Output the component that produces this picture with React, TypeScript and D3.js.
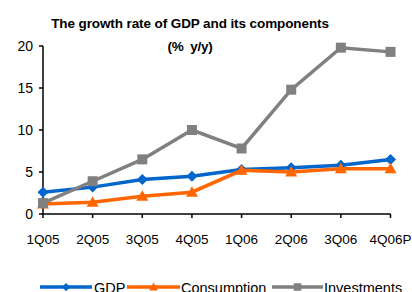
import React from "react";
import * as d3 from "d3";

const categories = ["1Q05", "2Q05", "3Q05", "4Q05", "1Q06", "2Q06", "3Q06", "4Q06P"];
const gdp = [2.6, 3.2, 4.1, 4.5, 5.3, 5.5, 5.8, 6.5];
const consumption = [1.2, 1.4, 2.1, 2.6, 5.2, 5.0, 5.4, 5.4];
const investments = [1.3, 3.9, 6.5, 10.0, 7.8, 14.8, 19.8, 19.3];
const yTicks = [0, 5, 10, 15, 20];
const seriesNames = ["GDP", "Consumption", "Investments"];

const W = 412, H = 292;
const FONT = "Liberation Sans, Arial, sans-serif";

export default function App() {
  const x = d3.scalePoint<string>().domain(categories).range([43, 390.5]);
  const y = d3.scaleLinear().domain([0, 20]).range([214, 46]);
  const colors = ["#0066CC", "#FF6600", "#808080"];
  const data = [gdp, consumption, investments];
  const line = d3.line<number>().x((_, i) => x(categories[i])!).y((d) => y(d));

  const marker = (k: number, cx: number, cy: number, key: string | number, scale = 1) => {
    const c = colors[k];
    if (k === 0) {
      const s = 5.5 * scale;
      return <path key={key} d={`M${cx},${cy - s}L${cx + s},${cy}L${cx},${cy + s}L${cx - s},${cy}Z`} fill={c} />;
    } else if (k === 1) {
      const s = 6 * scale;
      return <path key={key} d={`M${cx},${cy - s}L${cx + s},${cy + s * 0.75}L${cx - s},${cy + s * 0.75}Z`} fill={c} />;
    } else {
      const s = 5 * scale;
      return <rect key={key} x={cx - s} y={cy - s} width={2 * s} height={2 * s} fill={c} />;
    }
  };

  const legendItems = [
    { x0: 40, x1: 92, tx: 94 },
    { x0: 127, x1: 180, tx: 181 },
    { x0: 272, x1: 323, tx: 324 },
  ];

  return (
    <svg width={W} height={H} style={{ position: "absolute", left: 0, top: 0 }} fontFamily={FONT}>
      <rect width={W} height={H} fill="#fff" />
      <text x={190} y={28} textAnchor="middle" fontSize={13.5} fontWeight="bold" letterSpacing={-0.1}>
        The growth rate of GDP and its components
      </text>
      <text x={190} y={51} textAnchor="middle" fontSize={13.5} fontWeight="bold" letterSpacing={-0.3} xmlSpace="preserve">
        (%  y/y)
      </text>
      {/* y axis */}
      <line x1={43} x2={43} y1={y(20)} y2={y(0)} stroke="#000" strokeWidth={1.5} />
      {yTicks.map((t) => (
        <g key={t}>
          <line x1={39} x2={43} y1={y(t)} y2={y(t)} stroke="#000" strokeWidth={1.5} />
          <text x={33} y={y(t) + 5} textAnchor="end" fontSize={14}>{t}</text>
        </g>
      ))}
      {/* x axis */}
      <line x1={43} x2={390.5} y1={y(0)} y2={y(0)} stroke="#000" strokeWidth={1.5} />
      {categories.map((c) => (
        <g key={c}>
          <line x1={x(c)} x2={x(c)} y1={y(0)} y2={y(0) + 4} stroke="#000" strokeWidth={1.5} />
          <text x={x(c)} y={244} textAnchor="middle" fontSize={13.5}>{c}</text>
        </g>
      ))}
      {data.map((s, k) => (
        <g key={k}>
          <path d={line(s)!} fill="none" stroke={colors[k]} strokeWidth={3.5} />
          {s.map((v, i) => marker(k, x(categories[i])!, y(v), i))}
        </g>
      ))}
      {/* legend */}
      {seriesNames.map((n, k) => {
        const it = legendItems[k];
        return (
          <g key={n}>
            <line x1={it.x0} x2={it.x1} y1={287} y2={287} stroke={colors[k]} strokeWidth={3.5} />
            {marker(k, (it.x0 + it.x1) / 2, 287, "m", 0.75)}
            <text x={it.tx} y={292.5} fontSize={14.5}>{n}</text>
          </g>
        );
      })}
    </svg>
  );
}
